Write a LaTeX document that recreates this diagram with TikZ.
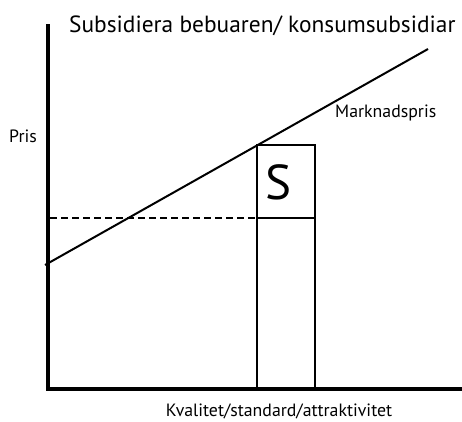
\documentclass[tikz,border=0pt]{standalone}
\usepackage{fontspec}
\setmainfont{PT Sans}
\usetikzlibrary{positioning,calc}

\begin{document}
\begin{tikzpicture}[x=1pt, y=-1pt,
  axis/.style={line width=4pt},
  ln/.style={line width=2pt},
  lbl/.style={font=\fontsize{17.8}{20}\selectfont, inner sep=0pt}
]
  \useasboundingbox (0,0) rectangle (462,421);
  % axes
  \coordinate (ytop) at (48,24);
  \coordinate (orig) at (48,389);
  \coordinate (xend) at (462,389);
  \draw[axis] (ytop) -- (orig) -- (xend);
  % market price line
  \coordinate (ms) at (45,265);
  \coordinate (me) at (428,49);
  \draw[ln] (ms) -- (me);
  % subsidy box
  \coordinate (bl) at (257,389);
  \coordinate (tr) at (315,145);
  \coordinate (ml) at (257,218);
  \coordinate (mr) at (315,218);
  \coordinate (dl) at (50,218);
  \draw[ln] (bl) rectangle (tr);
  \draw[ln] (ml) -- (mr);
  \draw[ln, dashed, dash pattern=on 7pt off 4pt] (dl) -- (ml);
  \node[font=\fontsize{49}{52}\selectfont, inner sep=0pt, anchor=base] (s) at (279,199) {S};
  % labels
  \node[font=\fontsize{23.4}{26}\selectfont, inner sep=0pt, anchor=base west] (title) at (69,32) {Subsidiera bebuaren/ konsumsubsidiar};
  \node[lbl, anchor=base west] (pris) at (9,142) {Pris};
  \node[lbl, anchor=base west] (mpris) at (335,117) {Marknadspris};
  \node[lbl, anchor=base] (xlab) at (279,416) {Kvalitet/standard/attraktivitet};
\end{tikzpicture}
\end{document}
